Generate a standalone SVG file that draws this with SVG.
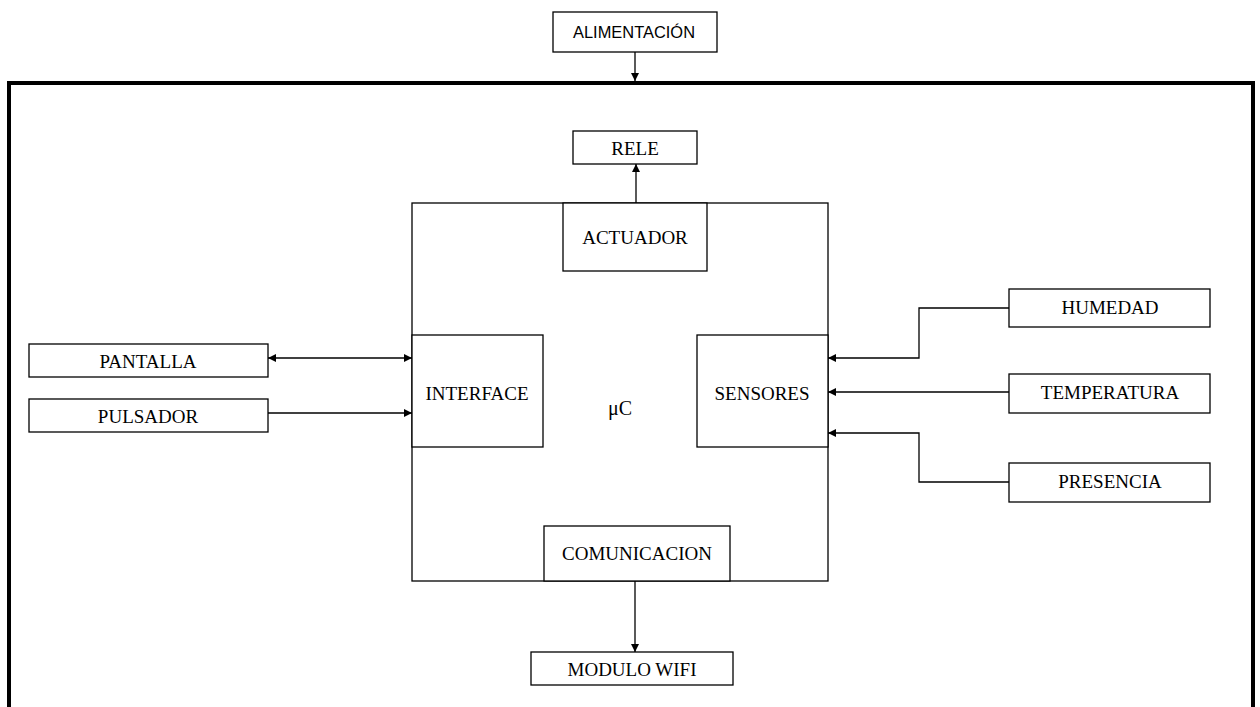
<svg xmlns="http://www.w3.org/2000/svg" width="1260" height="707" viewBox="0 0 1260 707">
  <style>
    .box { fill: #ffffff; stroke: #000000; stroke-width: 1.3; }
    .frame { fill: none; stroke: #000000; stroke-width: 4; }
    .lbl { font-family: "Liberation Serif", "Times New Roman", serif; font-size: 19px; fill: #000000; text-anchor: middle; dominant-baseline: central; }
    .lbl-sans { font-family: "Liberation Sans", Arial, sans-serif; font-size: 16.5px; fill: #000000; text-anchor: middle; dominant-baseline: central; }
    .wire { fill: none; stroke: #000000; stroke-width: 1.3; }
  </style>
  <defs>
    <marker id="arrow" viewBox="0 0 10 10" refX="10" refY="5" markerWidth="8" markerHeight="8" markerUnits="userSpaceOnUse" orient="auto-start-reverse">
      <path d="M0,0 L10,5 L0,10 z" fill="#000000"/>
    </marker>
  </defs>

  <rect width="1260" height="707" fill="#ffffff"/>

  <!-- enclosure -->
  <path class="frame" d="M9,712 L9,83 L1253,83 L1253,712"/>

  <!-- microcontroller -->
  <g id="uc">
    <rect class="box" x="412" y="203" width="416" height="378"/>
    <text class="lbl" x="620" y="408" style="font-size:20px">μC</text>
  </g>
  <g id="actuador">
    <rect class="box" x="563" y="203" width="144" height="68"/>
    <text class="lbl" x="635" y="237">ACTUADOR</text>
  </g>
  <g id="interface">
    <rect class="box" x="412" y="335" width="131" height="112"/>
    <text class="lbl" x="477" y="393">INTERFACE</text>
  </g>
  <g id="sensores">
    <rect class="box" x="697" y="335" width="131" height="112"/>
    <text class="lbl" x="762" y="393">SENSORES</text>
  </g>
  <g id="comunicacion">
    <rect class="box" x="544" y="526" width="186" height="55"/>
    <text class="lbl" x="637" y="553">COMUNICACION</text>
  </g>

  <!-- peripherals -->
  <g id="alimentacion">
    <rect class="box" x="553" y="12" width="164" height="40"/>
    <text class="lbl-sans" x="634" y="32" textLength="122" lengthAdjust="spacingAndGlyphs">ALIMENTACIÓN</text>
  </g>
  <g id="rele">
    <rect class="box" x="573" y="131" width="124" height="33"/>
    <text class="lbl" x="635" y="148">RELE</text>
  </g>
  <g id="pantalla">
    <rect class="box" x="29" y="344" width="239" height="33"/>
    <text class="lbl" x="148" y="361">PANTALLA</text>
  </g>
  <g id="pulsador">
    <rect class="box" x="29" y="399" width="239" height="33"/>
    <text class="lbl" x="148" y="416">PULSADOR</text>
  </g>
  <g id="humedad">
    <rect class="box" x="1009" y="289" width="201" height="38"/>
    <text class="lbl" x="1110" y="307">HUMEDAD</text>
  </g>
  <g id="temperatura">
    <rect class="box" x="1009" y="374" width="201" height="39"/>
    <text class="lbl" x="1110" y="392">TEMPERATURA</text>
  </g>
  <g id="presencia">
    <rect class="box" x="1009" y="463" width="201" height="39"/>
    <text class="lbl" x="1110" y="481">PRESENCIA</text>
  </g>
  <g id="wifi">
    <rect class="box" x="531" y="652" width="202" height="33"/>
    <text class="lbl" x="632" y="669">MODULO  WIFI</text>
  </g>

  <!-- connectors -->
  <g id="connectors">
    <path class="wire" d="M635,52 L635,81" marker-end="url(#arrow)"/>
    <path class="wire" d="M636,203 L636,164" marker-end="url(#arrow)"/>
    <path class="wire" d="M268,358 L412,358" marker-start="url(#arrow)" marker-end="url(#arrow)"/>
    <path class="wire" d="M268,413 L412,413" marker-end="url(#arrow)"/>
    <path class="wire" d="M1009,308 L919,308 L919,358 L828,358" marker-end="url(#arrow)"/>
    <path class="wire" d="M1009,392 L828,392" marker-end="url(#arrow)"/>
    <path class="wire" d="M1009,482 L919,482 L919,433 L828,433" marker-end="url(#arrow)"/>
    <path class="wire" d="M635,581 L635,652" marker-end="url(#arrow)"/>
  </g>
</svg>
